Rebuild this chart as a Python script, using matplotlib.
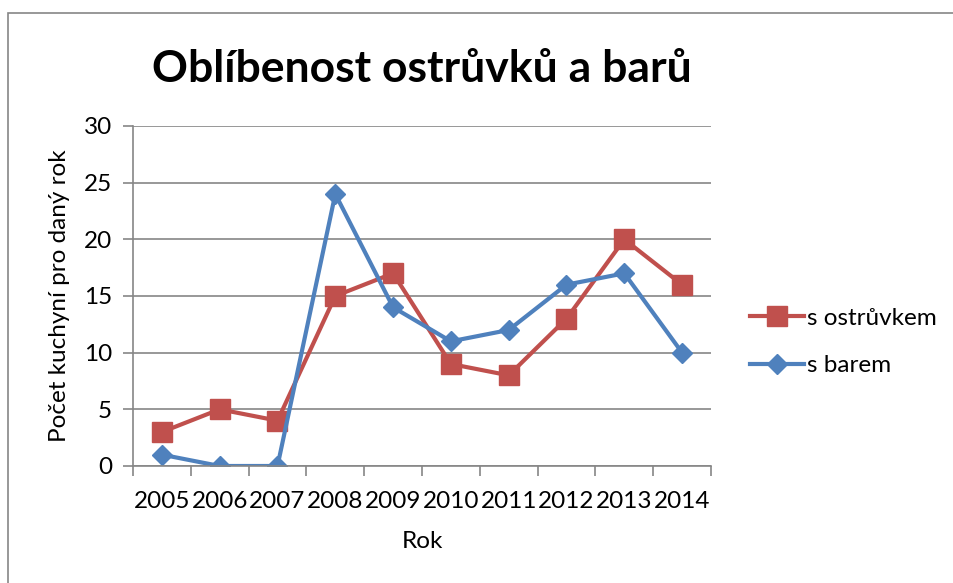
import matplotlib
matplotlib.use("Agg")
import matplotlib.pyplot as plt
from matplotlib.patches import Rectangle

# data
roky = ["2005", "2006", "2007", "2008", "2009", "2010", "2011", "2012", "2013", "2014"]
s_ostruvkem = [3, 5, 4, 15, 17, 9, 8, 13, 20, 16]
s_barem = [1, 0, 0, 24, 14, 11, 12, 16, 17, 10]
y_ticks = [0, 5, 10, 15, 20, 25, 30]

plt.rcParams['font.family'] = ['Lato', 'DejaVu Sans']
fs = 17.5

fig = plt.figure(figsize=(9.54, 5.83), dpi=100)
# ramecek grafu (vpravo a dole oriznuty)
fig.patches.append(Rectangle((8 / 954, -0.1), 1.2, 1 - 13 / 583 + 0.1,
                             transform=fig.transFigure, fill=False,
                             edgecolor="#868686", linewidth=1.2))

ax = fig.add_axes([133 / 954, 1 - 466 / 583, 578 / 954, 340 / 583])
x = list(range(len(roky)))

ax.plot(x, s_ostruvkem, color="#C0504D", linewidth=3, marker="s", markersize=14,
        markerfacecolor="#C0504D", markeredgecolor="#C0504D", label="s ostrůvkem")
ax.plot(x, s_barem, color="#4F81BD", linewidth=3, marker="D", markersize=10,
        markerfacecolor="#4F81BD", markeredgecolor="#4F81BD", label="s barem")

ax.set_xlim(-0.5, len(roky) - 0.5)
ax.set_ylim(0, 30)
ax.set_yticks(y_ticks)
ax.set_xticks(x)
ax.set_xticklabels(roky)
ax.set_xticks([i - 0.5 for i in range(len(roky) + 1)], minor=True)
ax.tick_params(axis="x", which="major", length=0, pad=18, labelsize=fs)
ax.tick_params(axis="x", which="minor", length=7, color="#868686", width=1.2)
ax.tick_params(axis="y", length=7, color="#868686", width=1.2, pad=8, labelsize=fs)

ax.grid(axis="y", color="#868686", linewidth=1.2)
ax.set_axisbelow(True)
for s in ["top", "right"]:
    ax.spines[s].set_visible(False)
for s in ["left", "bottom"]:
    ax.spines[s].set_color("#868686")
    ax.spines[s].set_linewidth(1.2)

ax.set_title("Oblíbenost ostrůvků a barů", fontsize=32, fontweight="bold", pad=32)
ax.set_xlabel("Rok", fontsize=fs, labelpad=14)
ax.set_ylabel("Počet kuchyní pro daný rok", fontsize=fs, labelpad=10)

ax.legend(loc="center left", bbox_to_anchor=(1.03, 0.365), frameon=False, fontsize=fs,
          handlelength=2.2, handletextpad=0.15, labelspacing=1.1)

fig.savefig("out.png", dpi=100)
